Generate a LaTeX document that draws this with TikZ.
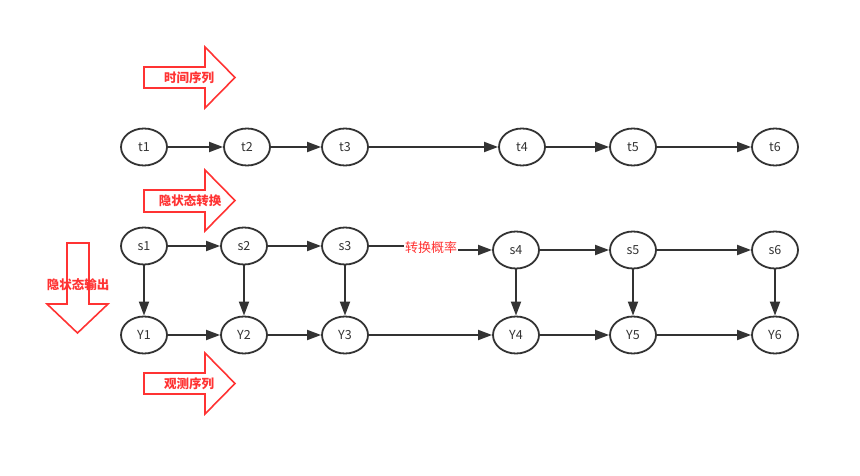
\documentclass[tikz,border=0pt]{standalone}
\usepackage{fontspec}
\setmainfont{Noto Sans CJK SC}
\usetikzlibrary{arrows.meta,shapes.geometric}
\definecolor{edgegray}{RGB}{51,51,51}
\definecolor{hintred}{RGB}{255,51,51}
\tikzset{
  state/.style={draw=edgegray, line width=1.8pt, ellipse, minimum width=46pt, minimum height=37pt, inner sep=0pt, text=edgegray, font=\fontsize{12.5}{14}\selectfont},
  link/.style={-{Triangle[length=14pt,width=10pt]}, line width=1.8pt, draw=edgegray},
  hintarrow/.style={draw=hintred, line width=1.6pt, fill=white, line join=miter},
  hinttext/.style={text=hintred, inner sep=0pt, font=\bfseries\fontsize{12.5}{14}\selectfont},
  problabel/.style={text=hintred, fill=white, inner sep=1pt, font=\fontsize{13}{15}\selectfont}
}
\begin{document}
\begin{tikzpicture}[x=1pt, y=-1pt]
        \useasboundingbox (0,0) rectangle (860,476);

        % red hint arrows
        \draw[hintarrow] (144,67) -- (205,67) -- (205,47) -- (235,77.5) -- (205,108) -- (205,88) -- (144,88) -- cycle;
        \draw[hintarrow] (144,190) -- (205,190) -- (205,170) -- (235,200.5) -- (205,231) -- (205,212) -- (144,212) -- cycle;
        \draw[hintarrow] (144,373) -- (205,373) -- (205,353) -- (235,383.5) -- (205,414) -- (205,394) -- (144,394) -- cycle;
        \draw[hintarrow] (67,243) -- (89,243) -- (89,304) -- (108,304) -- (77.5,333) -- (47,304) -- (67,304) -- cycle;

        \node[hinttext] (timeseq) at (189,78) {时间序列};
        \node[hinttext] (hidtrans) at (190,201) {隐状态转换};
        \node[hinttext] (obsseq) at (189,384) {观测序列};
        \node[hinttext] (hidout) at (78,285) {隐状态输出};

        % time row
        \node[state] (t1) at (144,147) {t1};
        \node[state] (t2) at (247,147) {t2};
        \node[state] (t3) at (345,147) {t3};
        \node[state] (t4) at (522,147) {t4};
        \node[state] (t5) at (633,147) {t5};
        \node[state] (t6) at (775,147) {t6};

        % hidden state row
        \node[state] (s1) at (144,246) {s1};
        \node[state] (s2) at (244,246) {s2};
        \node[state] (s3) at (345,246) {s3};
        \node[state] (s4) at (516,250) {s4};
        \node[state] (s5) at (633,250) {s5};
        \node[state] (s6) at (775,250) {s6};

        % observation row
        \node[state] (Y1) at (144,335) {Y1};
        \node[state] (Y2) at (244,335) {Y2};
        \node[state] (Y3) at (345,335) {Y3};
        \node[state] (Y4) at (516,335) {Y4};
        \node[state] (Y5) at (633,335) {Y5};
        \node[state] (Y6) at (775,335) {Y6};

        \draw[link] (t1) -- (t2);
        \draw[link] (t2) -- (t3);
        \draw[link] (t3) -- (t4);
        \draw[link] (t4) -- (t5);
        \draw[link] (t5) -- (t6);

        \draw[link] (s1) -- (s2);
        \draw[link] (s2) -- (s3);
        \coordinate (probmid) at (431,248);
        \draw[link] (s3.east) -| (probmid) |- (s4.west);
        \node[problabel] (prob) at (probmid) {转换概率};
        \draw[link] (s4) -- (s5);
        \draw[link] (s5) -- (s6);

        \draw[link] (Y1) -- (Y2);
        \draw[link] (Y2) -- (Y3);
        \draw[link] (Y3) -- (Y4);
        \draw[link] (Y4) -- (Y5);
        \draw[link] (Y5) -- (Y6);

        \draw[link] (s1) -- (Y1);
        \draw[link] (s2) -- (Y2);
        \draw[link] (s3) -- (Y3);
        \draw[link] (s4) -- (Y4);
        \draw[link] (s5) -- (Y5);
        \draw[link] (s6) -- (Y6);

    \end{tikzpicture}
\end{document}
